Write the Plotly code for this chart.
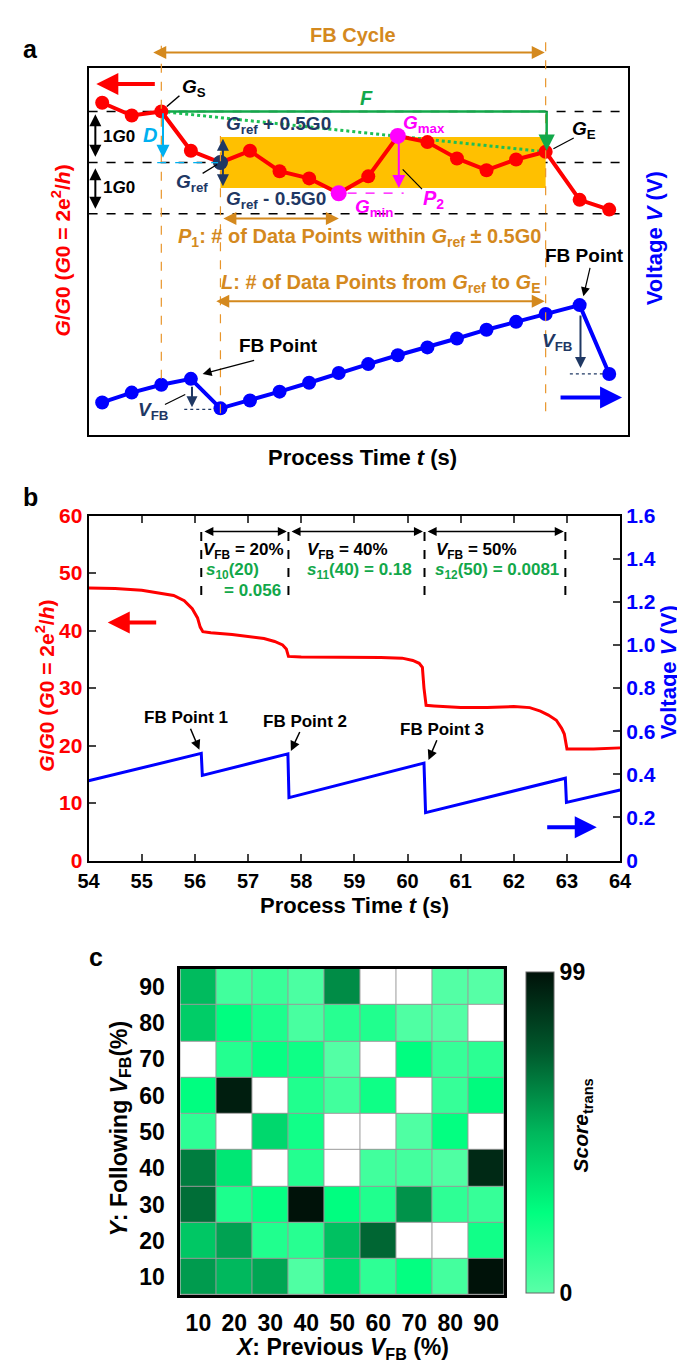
import plotly.graph_objects as go

W, H = 685, 1366
def px(x): return x / W
def py(y): return 1 - y / H

FONT = "Liberation Sans, Arial, sans-serif"
RED = "#FF0000"; BLUE = "#0000FF"; ORANGE = "#D4891E"; NAVY = "#1F3864"
MAG = "#FF00FF"; GREEN = "#12A84A"; CYAN = "#00B0F0"; BAND = "#FFC000"

# ---------------- Panel a (schematic) data ----------------
a_time = [0, 1, 2, 3, 4, 5, 6, 7, 8, 9, 10, 11, 12, 13, 14, 15, 16.15, 17.15]
a_G = [11.17, 10.92, 11.0, 10.23, 10.0, 10.23, 9.83, 9.69, 9.40, 9.73,
       10.52, 10.40, 10.08, 9.85, 10.06, 10.21, 9.27, 9.08]
a_V = [3.3, 4.3, 5.1, 5.7, 2.7, 3.5, 4.4, 5.3, 6.3, 7.2, 8.1, 8.9, 9.8,
       10.7, 11.5, 12.3, 13.2, 6.2]
a_levels = [11.0, 10.0, 9.0]
i_S, i_fb1, i_ref, i_min, i_max, i_E, i_fb2 = 2, 3, 4, 8, 10, 15, 16

# ---------------- Panel b data ----------------
b_tG = [54.0, 54.5, 55.0, 55.3, 55.6, 55.8, 55.95, 56.05, 56.1, 56.15, 56.3, 56.7,
        57.0, 57.3, 57.5, 57.65, 57.72, 57.76, 58.0, 58.5, 59.0, 59.5, 59.9, 60.1,
        60.22, 60.28, 60.31, 60.35, 60.5, 61.0, 61.5, 62.0, 62.3, 62.5, 62.65, 62.8,
        62.9, 62.95, 63.0, 63.5, 64.0]
b_G = [47.4, 47.3, 47.0, 46.6, 46.1, 45.2, 43.8, 42.2, 40.6, 39.8, 39.6, 39.3,
       39.0, 38.6, 38.1, 37.5, 36.8, 35.5, 35.4, 35.4, 35.3, 35.3, 35.2, 34.8,
       34.3, 33.6, 30.0, 27.0, 26.9, 26.6, 26.6, 26.8, 26.6, 26.0, 25.3, 24.4,
       23.0, 22.0, 19.4, 19.4, 19.6]
b_tV = [54.0, 56.12, 56.14, 57.75, 57.77, 60.31, 60.34, 62.97, 62.99, 64.0]
b_V = [0.37, 0.497, 0.395, 0.495, 0.292, 0.452, 0.222, 0.382, 0.270, 0.327]
b_fb_t = [56.12, 57.76, 60.32, 62.97]
b_vfb_labels = ["<i>V</i><sub>FB</sub> = 20%", "<i>V</i><sub>FB</sub> = 40%", "<i>V</i><sub>FB</sub> = 50%"]
b_s_labels = ["<i>s</i><sub>11</sub>(40) = 0.18", "<i>s</i><sub>12</sub>(50) = 0.0081"]
b_G_ticks = [0, 10, 20, 30, 40, 50, 60]
b_V_ticks = [0, 0.2, 0.4, 0.6, 0.8, 1.0, 1.2, 1.4, 1.6]
b_V_ticktext = ["0", "0.2", "0.4", "0.6", "0.8", "1.0", "1.2", "1.4", "1.6"]
b_t_ticks = [54, 55, 56, 57, 58, 59, 60, 61, 62, 63, 64]

# ---------------- Panel c data ----------------
c_x = [10, 20, 30, 40, 50, 60, 70, 80, 90]
c_y = [10, 20, 30, 40, 50, 60, 70, 80, 90]
c_rows_top_down = [
    [48, 7, 9, 4, 61, None, None, 2, 1],          # Y = 90
    [42, 25, 17, 5, 14, 16, 3, 2, None],          # Y = 80
    [None, 15, 23, 21, 2, None, 25, 10, 13],      # Y = 70
    [25, 95, None, 16, 7, 21, None, 10, 26],      # Y = 60
    [12, None, 38, 20, None, None, 3, 24, None],  # Y = 50
    [65, 33, None, 15, None, 7, 6, 3, 91],        # Y = 40
    [69, 17, 23, 99, 25, 16, 59, 12, 10],         # Y = 30
    [44, 55, 16, 14, 46, 71, None, None, 20],     # Y = 20
    [57, 49, 54, 3, 36, 12, 24, 6, 99],           # Y = 10
]
c_colorscale = [[0, "#5AFFA8"], [0.25, "#00FF80"], [0.5, "#00B75C"],
                [0.75, "#005A2D"], [1, "#001209"]]
c_range = [0, 99]

fig = go.Figure()

# ---- Panel a traces
fig.add_trace(go.Scatter(x=[a_time[i_S], a_time[i_E]], y=[a_G[i_S], a_G[i_E]],
                         mode="lines", line=dict(color="#1DBF55", width=3, dash="dot"),
                         xaxis="x", yaxis="y", hoverinfo="skip"))
fig.add_trace(go.Scatter(x=[a_time[i_S], a_time[i_E]], y=[a_G[i_S], a_G[i_S]],
                         mode="lines", line=dict(color=GREEN, width=2.5),
                         xaxis="x", yaxis="y", hoverinfo="skip"))
fig.add_trace(go.Scatter(x=a_time, y=a_G, mode="lines+markers",
                         line=dict(color=RED, width=4), marker=dict(size=14, color=RED),
                         xaxis="x", yaxis="y"))
fig.add_trace(go.Scatter(x=[a_time[i_ref]], y=[a_G[i_ref]], mode="markers",
                         marker=dict(size=15, color=NAVY), xaxis="x", yaxis="y"))
fig.add_trace(go.Scatter(x=[a_time[i_min], a_time[i_max]], y=[a_G[i_min], a_G[i_max]],
                         mode="markers", marker=dict(size=16, color=MAG), xaxis="x", yaxis="y"))
fig.add_trace(go.Scatter(x=a_time, y=a_V, mode="lines+markers",
                         line=dict(color=BLUE, width=4), marker=dict(size=14, color=BLUE),
                         xaxis="x", yaxis="y2"))

# ---- Panel b traces
fig.add_trace(go.Scatter(x=b_tG, y=b_G, mode="lines", line=dict(color=RED, width=3),
                         xaxis="x2", yaxis="y3"))
fig.add_trace(go.Scatter(x=b_tV, y=b_V, mode="lines", line=dict(color=BLUE, width=3),
                         xaxis="x2", yaxis="y4"))

# ---- Panel c traces
z = [row for row in reversed(c_rows_top_down)]
z_mask = [[1 if v is None else None for v in row] for row in z]
fig.add_trace(go.Heatmap(x=c_x, y=c_y, z=z_mask, colorscale=[[0, "white"], [1, "white"]],
                         showscale=False, xgap=1, ygap=1, xaxis="x3", yaxis="y5",
                         hoverinfo="skip"))
fig.add_trace(go.Heatmap(
    x=c_x, y=c_y, z=z, colorscale=c_colorscale, zmin=c_range[0], zmax=c_range[1],
    xgap=1, ygap=1, xaxis="x3", yaxis="y5",
    colorbar=dict(x=px(525), xanchor="left", y=py(1131.5), yanchor="middle",
                  len=327 / H, lenmode="fraction", thickness=28, xpad=0, ypad=0,
                  outlinecolor="#666", outlinewidth=1, tickvals=c_range,
                  ticktext=[str(v) for v in c_range], ticks="",
                  tickfont=dict(size=23, family=FONT, color="black", weight="bold"))))

ann, shp = [], []

def text(x, y, s, size=17, color="black", xanchor="center", yanchor="middle", angle=0):
    ann.append(dict(x=px(x), y=py(y), xref="paper", yref="paper", text=s, showarrow=False,
                    font=dict(size=size, color=color, family=FONT, weight="bold"),
                    xanchor=xanchor, yanchor=yanchor, textangle=angle))

def arrow(x0, y0, x1, y1, color="black", width=2, both=False, size=1.3):
    ann.append(dict(x=px(x1), y=py(y1), xref="paper", yref="paper", ax=x0 - x1, ay=y0 - y1,
                    showarrow=True, text="", arrowhead=2, arrowsize=size, arrowwidth=width,
                    arrowcolor=color, startarrowhead=2, startarrowsize=size,
                    arrowside="end+start" if both else "end", standoff=0, startstandoff=0))

def line(x0, y0, x1, y1, color="black", width=1.5, dash="solid"):
    shp.append(dict(type="line", xref="paper", yref="paper", x0=px(x0), y0=py(y0),
                    x1=px(x1), y1=py(y1), line=dict(color=color, width=width, dash=dash)))

# ---------------- Panel a decorations ----------------
shp.append(dict(type="rect", xref="x", yref="y", x0=a_time[i_ref], x1=a_time[i_E],
                y0=a_G[i_ref] - 0.5, y1=a_G[i_ref] + 0.5, fillcolor=BAND,
                line=dict(width=0), layer="below"))
for lv in a_levels:
    shp.append(dict(type="line", xref="x domain", x0=0, x1=1, yref="y", y0=lv, y1=lv,
                    line=dict(color="black", width=1.5, dash="dash"), layer="below"))
for idx, ytop, ybot in [(i_S, 20, 365), (i_ref, 118, 400), (i_E, 20, 398)]:
    shp.append(dict(type="line", xref="x", yref="paper", x0=a_time[idx], x1=a_time[idx],
                    y0=py(ybot), y1=py(ytop), line=dict(color="#E8952A", width=1.2, dash="dash")))

text(2, 30, "a", size=25, xanchor="left")
text(346, 15, "FB Cycle", size=20, color=ORANGE)
arrow(151, 33, 544, 33, color=ORANGE, width=2, both=True)
arrow(140, 65, 80, 65, color=RED, width=4, size=1.1)
arrow(79, 95, 79, 139, width=2, both=True, size=1.2)
arrow(79, 150, 79, 192, width=2, both=True, size=1.2)
text(103, 118, "1<i>G</i>0", size=17)
text(103, 170, "1<i>G</i>0", size=17)
text(181, 69, "<i>G</i><sub>S</sub>", size=19)
line(166, 77, 153, 88, width=1.5)
text(136, 117, "<i>D</i>", size=20, color=CYAN)
arrow(149, 94, 149, 140, color=CYAN, width=2)
line(143, 145, 206, 145, color=CYAN, width=1.2, dash="dash")
text(360, 79, "<i>F</i>", size=20, color=GREEN)
arrow(546, 92, 546, 133, color=GREEN, width=2.5)
text(212, 107, "<i>G</i><sub>ref</sub> + 0.5G0", size=19, color=NAVY, xanchor="left")
text(212, 183, "<i>G</i><sub>ref</sub> - 0.5G0", size=19, color=NAVY, xanchor="left")
arrow(211, 120, 211, 169, color=NAVY, width=2, both=True, size=1.2)
text(179, 166, "<i>G</i><sub>ref</sub>", size=19, color=NAVY)
line(190, 156, 205, 147, width=1.2)
text(419, 106, "<i>G</i><sub>max</sub>", size=19, color=MAG)
text(367, 191, "<i>G</i><sub>min</sub>", size=19, color=MAG)
line(340, 176, 398, 176, color=MAG, width=1.2, dash="dash")
arrow(393, 124, 393, 171, color=MAG, width=2)
text(429, 183, "<i>P</i><sub>2</sub>", size=20, color=MAG)
line(417, 172, 397, 152, width=1.2)
text(585, 112, "<i>G</i><sub>E</sub>", size=19)
line(574, 120, 553, 131, width=1.2)
arrow(214, 202, 331, 202, color=ORANGE, width=2, both=True)
text(352, 221, "<i>P</i><sub>1</sub>: # of Data Points within <i>G</i><sub>ref</sub> \u00b1 0.5G0",
     size=20, color=ORANGE)
text(585, 240, "FB Point", size=19)
arrow(591, 251, 584, 281, width=1.2, size=1.5)
text(375, 268, "<i>L</i>: # of Data Points from <i>G</i><sub>ref</sub> to <i>G</i><sub>E</sub>",
     size=20, color=ORANGE)
arrow(214, 286, 544, 286, color=ORANGE, width=2, both=True)
text(268, 331, "FB Point", size=19)
arrow(243, 346, 190, 360, width=1.2, size=1.5)
text(139, 398, "<i>V</i><sub>FB</sub>", size=19, color=NAVY)
line(151, 391, 172, 381, width=1.2)
arrow(179, 372, 179, 394, color=NAVY, width=2, size=1.1)
line(171, 396, 203, 396, color=NAVY, width=1.2, dash="dot")
text(557, 328, "<i>V</i><sub>FB</sub>", size=19, color=NAVY)
arrow(581, 300, 581, 354, color=NAVY, width=2, size=1.1)
line(570, 360, 605, 360, color=NAVY, width=1.2, dash="dot")
arrow(561, 384, 624, 384, color=BLUE, width=4, size=1.1)
text(44, 235, "<i>G</i>/<i>G</i>0 (<i>G</i>0 = 2e<sup>2</sup>/<i>h</i>)", size=21, color=RED, angle=-90)
text(657, 222, "Voltage <i>V</i> (V)", size=22, color=BLUE, angle=-90)
text(355, 445, "Process Time <i>t</i> (s)", size=22)

# ---------------- Panel b decorations ----------------
text(2, 485, "b", size=25, xanchor="left")
for t in b_fb_t:
    shp.append(dict(type="line", xref="x2", yref="y3", x0=t, x1=t, y0=46.2, y1=57.9,
                    line=dict(color="black", width=2, dash="dash")))
for t0, t1 in zip(b_fb_t[:-1], b_fb_t[1:]):
    ann.append(dict(x=t1 - 0.03, y=57.2, xref="x2", yref="y3", ax=t0 + 0.03, ay=57.2,
                    axref="x2", ayref="y3", text="", showarrow=True, arrowhead=2,
                    arrowsize=1.2, arrowwidth=1.5, arrowcolor="black", startarrowhead=2,
                    startarrowsize=1.2, arrowside="end+start", standoff=0, startstandoff=0))
bfont = dict(size=17, family=FONT, color="black", weight="bold")
gfont = dict(size=17, family=FONT, color=GREEN, weight="bold")
for tc, lab in zip([56.92, 58.87, 61.3], b_vfb_labels):
    ann.append(dict(x=tc, y=53.8, xref="x2", yref="y3", text=lab, showarrow=False, font=bfont))
ann.append(dict(x=56.18, y=50.3, xref="x2", yref="y3", text="<i>s</i><sub>10</sub>(20)",
                showarrow=False, font=gfont, xanchor="left"))
ann.append(dict(x=57.66, y=47.0, xref="x2", yref="y3", text="= 0.056",
                showarrow=False, font=gfont, xanchor="right"))
for tc, lab in zip([59.1, 61.69], b_s_labels):
    ann.append(dict(x=tc, y=50.3, xref="x2", yref="y3", text=lab, showarrow=False, font=gfont))
ann.append(dict(x=54.36, y=41.4, xref="x2", yref="y3", ax=55.3, ay=41.4, axref="x2",
                ayref="y3", text="", showarrow=True, arrowhead=2, arrowsize=1.1,
                arrowwidth=4, arrowcolor=RED, standoff=0))
ann.append(dict(x=63.56, y=0.155, xref="x2", yref="y4", ax=62.6, ay=0.155, axref="x2",
                ayref="y4", text="", showarrow=True, arrowhead=2, arrowsize=1.1,
                arrowwidth=4, arrowcolor=BLUE, standoff=0))
for (hx, hy, tx, ty, lab) in [(56.1, 0.505, 55.83, 0.662, "FB Point 1"),
                              (57.79, 0.50, 58.07, 0.647, "FB Point 2"),
                              (60.38, 0.458, 60.64, 0.609, "FB Point 3")]:
    ann.append(dict(x=hx, y=hy, xref="x2", yref="y4", ax=tx, ay=ty, axref="x2", ayref="y4",
                    text=lab, showarrow=True, arrowhead=2, arrowsize=1.3, arrowwidth=1.5,
                    arrowcolor="black", font=bfont, standoff=2))
text(27, 677, "<i>G</i>/<i>G</i>0 (<i>G</i>0 = 2e<sup>2</sup>/<i>h</i>)", size=21, color=RED, angle=-90)
text(672, 663, "Voltage <i>V</i> (V)", size=22, color=BLUE, angle=-90)
text(347, 901, "Process Time <i>t</i> (s)", size=22)

# ---------------- Panel c decorations ----------------
text(80, 953, "c", size=25)
shp.append(dict(type="rect", xref="x3 domain", yref="y5 domain", x0=0, x1=1, y0=0, y1=1,
                fillcolor="#9A9A9A", line=dict(width=0), layer="below"))
text(104, 1128, "<i>Y</i>: Following <i>V</i><sub>FB</sub>(%)", size=23, angle=-90)
text(334, 1351, "<i>X</i>: Previous <i>V</i><sub>FB</sub> (%)", size=23)
text(583, 1124, "<i>Score</i><sub>trans</sub>", size=21, angle=-90)

axis_common = dict(showgrid=False, zeroline=False)
fig.update_layout(
    width=W, height=H, margin=dict(l=0, r=0, t=0, b=0),
    paper_bgcolor="white", plot_bgcolor="white", showlegend=False,
    font=dict(family=FONT, size=18, color="black", weight="bold"),
    xaxis=dict(domain=[px(72), px(630)], range=[-0.46, 17.78], anchor="y",
               showline=True, linewidth=2, linecolor="black", mirror=True,
               showticklabels=False, ticks="", **axis_common),
    yaxis=dict(domain=[py(422), py(49)], range=[4.673, 11.846], anchor="x",
               showline=True, linewidth=2, linecolor="black", mirror=True,
               showticklabels=False, ticks="", **axis_common),
    yaxis2=dict(overlaying="y", side="right", range=[0, 37.3], anchor="x",
                showticklabels=False, showline=False, ticks="", **axis_common),
    xaxis2=dict(domain=[px(72), px(622)], anchor="y3", range=[54, 64], tickvals=b_t_ticks,
                ticks="inside", ticklen=7, tickwidth=2, showline=True, linewidth=2,
                linecolor="black", mirror="ticks", ticklabelstandoff=1,
                tickfont=dict(size=20, color="black", family=FONT, weight="bold"),
                **axis_common),
    yaxis3=dict(domain=[py(855), py(504)], anchor="x2", range=[0, 60], tickvals=b_G_ticks,
                ticks="inside", ticklen=7, tickwidth=2, showline=True, linewidth=2,
                linecolor="black",
                tickfont=dict(size=21, color=RED, family=FONT, weight="bold"),
                **axis_common),
    yaxis4=dict(overlaying="y3", side="right", anchor="x2", range=[0, 1.6],
                tickvals=b_V_ticks, ticktext=b_V_ticktext, ticks="inside", ticklen=7,
                tickwidth=2, showline=True, linewidth=2, linecolor="black",
                tickfont=dict(size=21, color=BLUE, family=FONT, weight="bold"),
                **axis_common),
    xaxis3=dict(domain=[px(167), px(502)], anchor="y5", range=[5, 95], tickvals=c_x,
                ticks="", showline=True, linewidth=3, linecolor="black", mirror=True,
                ticklabelstandoff=5,
                tickfont=dict(size=23, color="black", family=FONT, weight="bold"),
                **axis_common),
    yaxis5=dict(domain=[py(1297), py(965)], anchor="x3", range=[5, 95], tickvals=c_y,
                ticks="", showline=True, linewidth=3, linecolor="black", mirror=True,
                ticklabelstandoff=8,
                tickfont=dict(size=23, color="black", family=FONT, weight="bold"),
                **axis_common),
    annotations=ann, shapes=shp,
)

fig.write_html("out.html")
